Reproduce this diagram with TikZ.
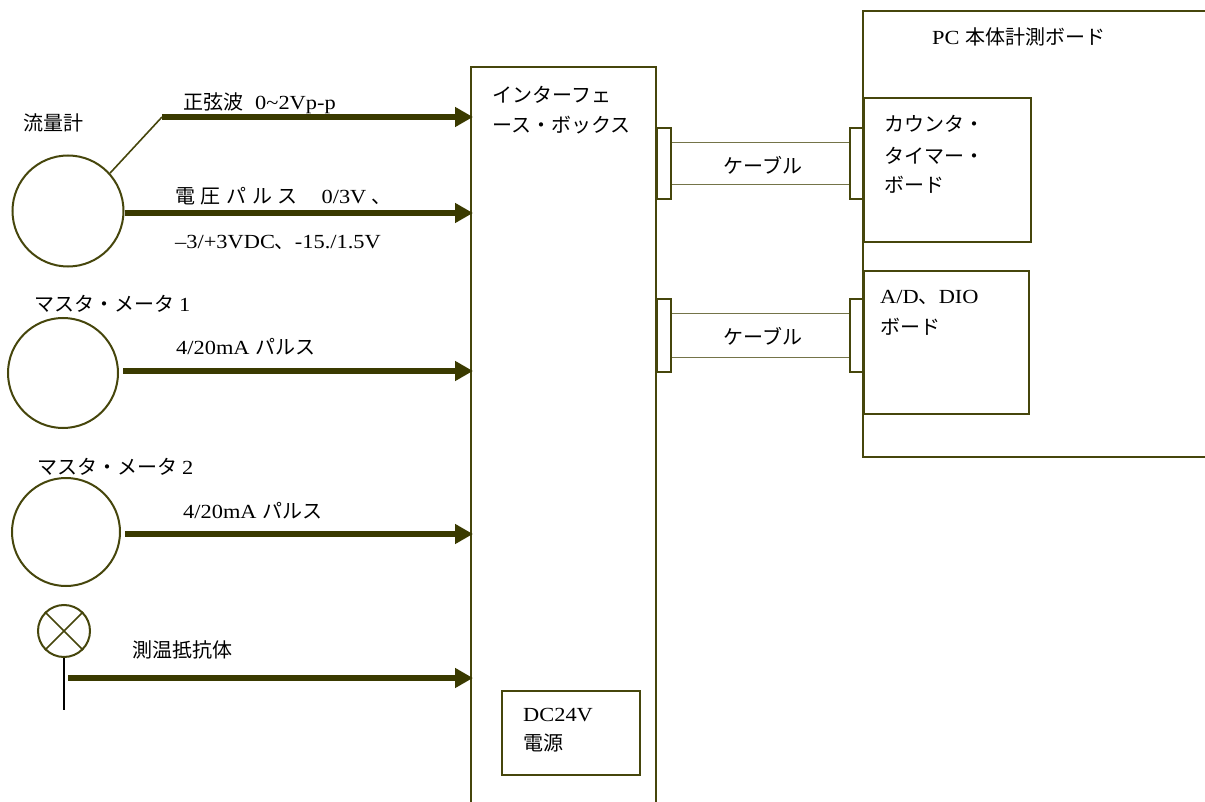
\documentclass[tikz,border=0pt]{standalone}
\usepackage{fontspec}
\setmainfont{Liberation Serif}[FakeStretch=1.12]
\newfontfamily\jp{Noto Sans CJK JP}
\usetikzlibrary{arrows.meta}
\definecolor{ln}{HTML}{46460C}
\definecolor{ar}{HTML}{3A3A00}
\newcommand{\J}[1]{{\jp #1}}
\newcommand{\kgap}{\hspace{5.6pt}}
\begin{document}
\begin{tikzpicture}[x=1pt,y=-1pt,
  boxline/.style={draw=ln, line width=2pt},
  sbox/.style={boxline, rectangle, inner sep=0pt},
  meter/.style={boxline, circle, inner sep=0pt},
  sig/.style={draw=ar, line width=5.5pt, -{Triangle[length=18pt,width=19pt]}},
  thin/.style={draw=ln, line width=1.6pt},
  cable/.style={draw=ln!75, line width=1.8pt},
  lbl/.style={anchor=west, inner sep=0pt, font=\fontsize{20}{24}\selectfont},
  clbl/.style={inner sep=0pt, font=\fontsize{20}{24}\selectfont}]
\useasboundingbox (0,0) rectangle (1205,802);

% interface box (open bottom)
\coordinate (ibl) at (471,803);
\coordinate (itl) at (471,67);
\coordinate (itr) at (656,67);
\coordinate (ibr) at (656,803);
\draw[boxline] (ibl) -- (itl) -- (itr) -- (ibr);
\node[lbl] (it1) at (492,95) {\J{インターフェ}};
\node[lbl] (it2) at (492,125) {\J{ース・ボックス}};

% PC box (open right)
\coordinate (ptr) at (1207,11);
\coordinate (ptl) at (863,11);
\coordinate (pbl) at (863,457);
\coordinate (pbr) at (1207,457);
\draw[boxline] (ptr) -- (ptl) -- (pbl) -- (pbr);
\node[lbl] (pt) at (932,37) {PC \J{本体計測ボード}};

% counter board
\node[sbox, minimum width=167pt, minimum height=144pt, anchor=north west] (cb) at (863,97) {};
\node[lbl] (cb1) at (884,124) {\J{カウンタ・}};
\node[lbl] (cb2) at (884,156) {\J{タイマー・}};
\node[lbl] (cb3) at (884,185) {\J{ボード}};

% A/D board
\node[sbox, minimum width=165pt, minimum height=143pt, anchor=north west] (ad) at (863,270) {};
\node[lbl] (ad1) at (880,297) {A/D\J{、}DIO};
\node[lbl] (ad2) at (880,327) {\J{ボード}};

% cable 1
\node[sbox, minimum width=14pt, minimum height=71pt, anchor=north west] (c1l) at (656,127) {};
\node[sbox, minimum width=14pt, minimum height=71pt, anchor=north west] (c1r) at (849,127) {};
\draw[cable] ([yshift=21pt]c1l.east) -- ([yshift=21pt]c1r.west);
\draw[cable] ([yshift=-21pt]c1l.east) -- ([yshift=-21pt]c1r.west);
\node[clbl] (k1) at (763,165) {\J{ケーブル}};

% cable 2
\node[sbox, minimum width=14pt, minimum height=73pt, anchor=north west] (c2l) at (656,298) {};
\node[sbox, minimum width=14pt, minimum height=73pt, anchor=north west] (c2r) at (849,298) {};
\draw[cable] ([yshift=22pt]c2l.east) -- ([yshift=22pt]c2r.west);
\draw[cable] ([yshift=-22pt]c2l.east) -- ([yshift=-22pt]c2r.west);
\node[clbl] (k2) at (763,336) {\J{ケーブル}};

% DC24V
\node[sbox, minimum width=138pt, minimum height=84pt, anchor=north west] (dc) at (501,690) {};
\node[lbl] (dc1) at (523,715) {DC24V};
\node[lbl] (dc2) at (523,743) {\J{電源}};

% flow meter
\node[meter, minimum size=111pt] (fm) at (68,211) {};
\node[lbl] (fml) at (23,123) {\J{流量計}};
\coordinate (bend) at (162,117);
\coordinate (e1) at (473,117);
\coordinate (e2) at (473,213);
\draw[thin] (fm.42) -- (bend);
\draw[sig] (bend) -- (e1);
\draw[sig] (fm.east |- e2) -- (e2);
\node[lbl] (s1) at (183,103) {\J{正弦波}\hspace{0.6em}0\textasciitilde 2Vp-p};
\node[lbl] (s2) at (175,196) {\J{電\kgap 圧\kgap パ\kgap ル\kgap ス}\hspace{24pt}0/3V\hspace{5pt}\J{、}};
\node[lbl] (s3) at (175,242) {\textendash 3/+3VDC\J{、}-15./1.5V};

% master meter 1
\node[meter, minimum size=110pt] (m1) at (63,373) {};
\node[lbl] (m1l) at (34,304) {\J{マスタ・メータ}\hspace{5pt}1};
\coordinate (e3) at (473,371);
\draw[sig] ([xshift=4pt]m1.east |- e3) -- (e3);
\node[lbl] (s4) at (176,347) {4/20mA \J{パルス}};

% master meter 2
\node[meter, minimum size=108pt] (m2) at (66,532) {};
\node[lbl] (m2l) at (37,467) {\J{マスタ・メータ}\hspace{5pt}2};
\coordinate (e4) at (473,534);
\draw[sig] ([xshift=4pt]m2.east |- e4) -- (e4);
\node[lbl] (s5) at (183,511) {4/20mA \J{パルス}};

% temperature sensor
\node[meter, minimum size=52pt] (ts) at (64,631) {};
\draw[thin] (ts.45) -- (ts.225);
\draw[thin] (ts.135) -- (ts.315);
\coordinate (tsb) at (64,710);
\draw[line width=1.6pt, black] (ts.south) -- (tsb);
\coordinate (ts0) at (68,678);
\coordinate (e5) at (473,678);
\draw[sig] (ts0) -- (e5);
\node[lbl] (s6) at (132,650) {\J{測温抵抗体}};
\end{tikzpicture}
\end{document}
